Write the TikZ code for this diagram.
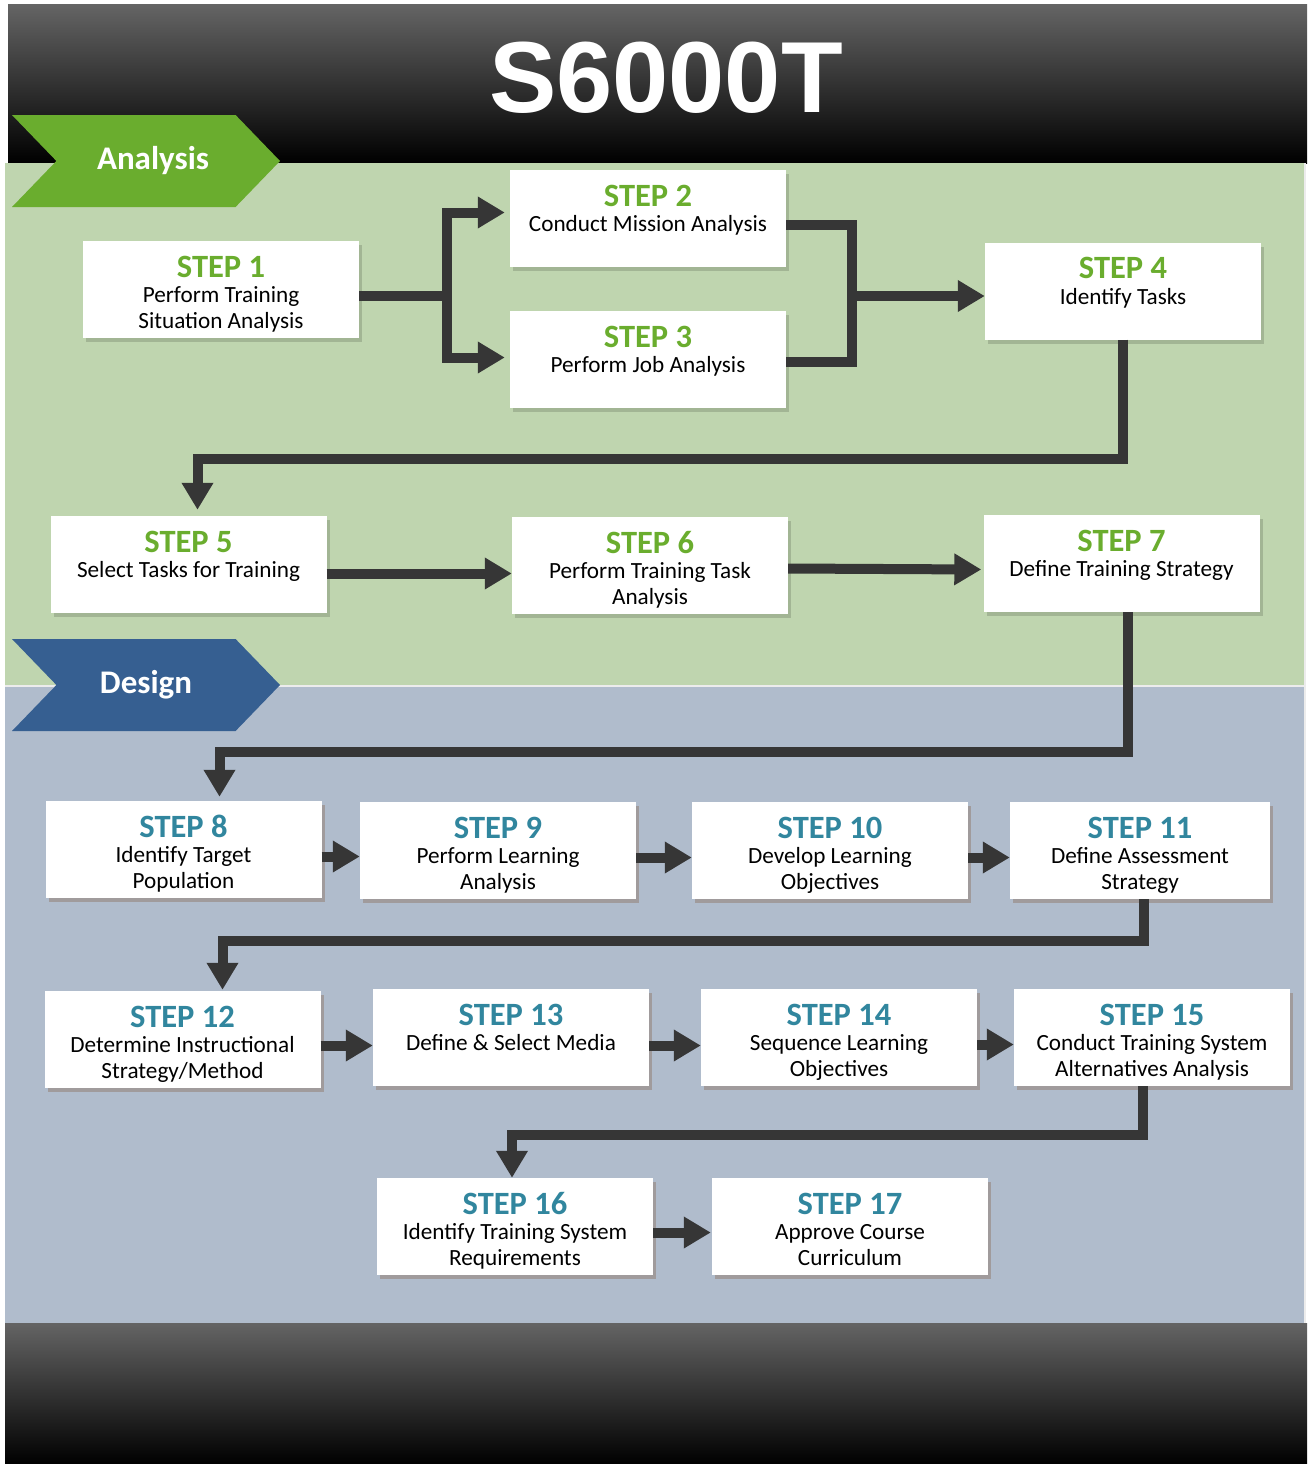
\documentclass[tikz,border=0pt]{standalone}
\usepackage{fontspec}
\setmainfont{Carlito}
\newfontfamily\titlefont{Liberation Sans}
\usepackage{xcolor}
\usetikzlibrary{arrows.meta,positioning,calc,shadows,shapes.symbols}
\definecolor{HeadGrey}{HTML}{646464}
\definecolor{AnaBg}{HTML}{BFD5AF}
\definecolor{DesBg}{HTML}{B0BCCC}
\definecolor{AnaGreen}{HTML}{6AAD2E}
\definecolor{DesBlue}{HTML}{365F91}
\definecolor{StepTeal}{HTML}{31869E}
\definecolor{ArrGrey}{HTML}{363636}
\definecolor{ShadeBrown}{HTML}{8A6A55}
\newcommand{\steptxt}[3]{\parbox[c][97pt][t]{250pt}{\centering\fontsize{23.2}{25.5}\selectfont
  \rule{0pt}{36pt}{\color{#1}\bfseries\fontsize{32.5}{32.5}\selectfont STEP #2}\par #3}}

\begin{document}
\begin{tikzpicture}[
  x=1pt,y=-1pt,
  stepbox/.style={fill=white,inner sep=0pt,minimum width=276pt,minimum height=97pt},
  anabox/.style={stepbox,drop shadow={shadow xshift=3pt,shadow yshift=-4pt,fill=black,opacity=.15}},
  desbox/.style={stepbox,drop shadow={shadow xshift=3pt,shadow yshift=-4pt,fill=ShadeBrown,opacity=.4}},
  banner/.style={signal,signal from=west,signal to=east,signal pointer angle=92,
    minimum width=268pt,minimum height=92pt,inner sep=0pt,text=white,
    font=\bfseries\fontsize{33}{33}\selectfont},
  arr/.style={-{Triangle[length=27pt,width=30pt]},line width=10pt,ArrGrey},
  conn/.style={line width=10pt,ArrGrey}
]
\useasboundingbox (0,0) rectangle (1307,1464);
% backgrounds
\shade[top color=HeadGrey,middle color=black,bottom color=black] (8,5) rectangle (1307,163);
\fill[AnaBg] (5,163) rectangle (1305,686);
\fill[DesBg] (5,686) rectangle (1305,1323);
\draw[white!85!gray,line width=1.5pt] (5,686) -- (1305,686);
\draw[white!85!gray,line width=1.5pt] (1305,163) -- (1305,1323);
\shade[top color=HeadGrey,middle color=black,bottom color=black] (5,1323) rectangle (1307,1464);
\node[text=white,font=\titlefont\bfseries\fontsize{101}{101}\selectfont] (title) at (666,78) {S6000T};
\node[banner,fill=AnaGreen] (analysis) at (146,161) {\hspace*{14pt}Analysis};
\node[banner,fill=DesBlue] (design) at (146,685) {Design};

% analysis steps
\node[anabox] (step1) at (221,289.5) {\steptxt{AnaGreen}{1}{Perform Training\\Situation Analysis}};
\node[anabox] (step2) at (648,218.5) {\steptxt{AnaGreen}{2}{Conduct Mission Analysis}};
\node[anabox] (step3) at (648,359.5) {\steptxt{AnaGreen}{3}{Perform Job Analysis}};
\node[anabox] (step4) at (1123,291) {\steptxt{AnaGreen}{4}{Identify Tasks}};
\node[anabox] (step5) at (188.5,564.5) {\steptxt{AnaGreen}{5}{Select Tasks for Training}};
\node[anabox] (step6) at (650,565.5) {\steptxt{AnaGreen}{6}{Perform Training Task\\Analysis}};
\node[anabox] (step7) at (1121.5,563.5) {\steptxt{AnaGreen}{7}{Define Training Strategy}};
% design steps
\node[desbox] (step8) at (183.5,849.5) {\steptxt{StepTeal}{8}{Identify Target\\Population}};
\node[desbox] (step9) at (498,850.5) {\steptxt{StepTeal}{9}{Perform Learning\\Analysis}};
\node[desbox] (step10) at (830,850.5) {\steptxt{StepTeal}{10}{Develop Learning\\Objectives}};
\node[desbox,minimum width=260pt] (step11) at (1140,850.5) {\steptxt{StepTeal}{11}{Define Assessment\\Strategy}};
\node[desbox] (step12) at (182.5,1039.5) {\steptxt{StepTeal}{12}{Determine Instructional\\Strategy/Method}};
\node[desbox] (step13) at (511,1037.5) {\steptxt{StepTeal}{13}{Define \& Select Media}};
\node[desbox] (step14) at (839,1037.5) {\steptxt{StepTeal}{14}{Sequence Learning\\Objectives}};
\node[desbox] (step15) at (1152,1037.5) {\steptxt{StepTeal}{15}{Conduct Training System\\Alternatives Analysis}};
\node[desbox] (step16) at (515,1226.5) {\steptxt{StepTeal}{16}{Identify Training System\\Requirements}};
\node[desbox] (step17) at (850,1226.5) {\steptxt{StepTeal}{17}{Approve Course\\Curriculum}};

% connectors
\draw[conn] ([yshift=-6pt]step1.east) -- ++(88,0) coordinate (split);
\draw[arr] (split) |- ([xshift=-5pt,yshift=6pt]step2.west);
\draw[arr] (split) |- ([xshift=-5pt,yshift=2pt]step3.west);
\draw[conn] ([yshift=-6pt]step2.east) -- ++(66,0) coordinate (merge) |- ([yshift=-2pt]step3.east);
\draw[arr] ([yshift=-5pt]merge |- step4.west) -- ([yshift=-5pt]step4.west);
\draw[arr] (step4.south) -- ++(0,119) -| ([xshift=9pt,yshift=6pt]step5.north);
\draw[arr] ([yshift=-9pt]step5.east) -- ([yshift=-8pt]step6.west);
\draw[arr] ([yshift=-3pt]step6.east) -- ([xshift=-2pt,yshift=-6pt]step7.west);
\draw[arr] ([xshift=6pt]step7.south) -- ++(0,140) -| ([xshift=36pt,yshift=4pt]step8.north);
\draw[arr] ([yshift=-7pt]step8.east) -- ([yshift=-6pt]step9.west);
\draw[arr] ([yshift=-7pt]step9.east) -- ([yshift=-7pt]step10.west);
\draw[arr] ([yshift=-7pt]step10.east) -- ([yshift=-7pt]step11.west);
\draw[arr] ([xshift=4pt]step11.south) -- ++(0,42) -| ([xshift=40pt,yshift=1pt]step12.north);
\draw[arr] ([yshift=-6pt]step12.east) -- ([yshift=-8pt]step13.west);
\draw[arr] ([yshift=-8pt]step13.east) -- ([yshift=-8pt]step14.west);
\draw[arr] ([yshift=-7pt]step14.east) -- ([yshift=-7pt]step15.west);
\draw[arr] ([xshift=-9pt]step15.south) -- ++(0,49) -| ([xshift=-3pt]step16.north);
\draw[arr] ([yshift=-6pt]step16.east) -- ([xshift=-1pt,yshift=-6pt]step17.west);
\end{tikzpicture}
\end{document}
